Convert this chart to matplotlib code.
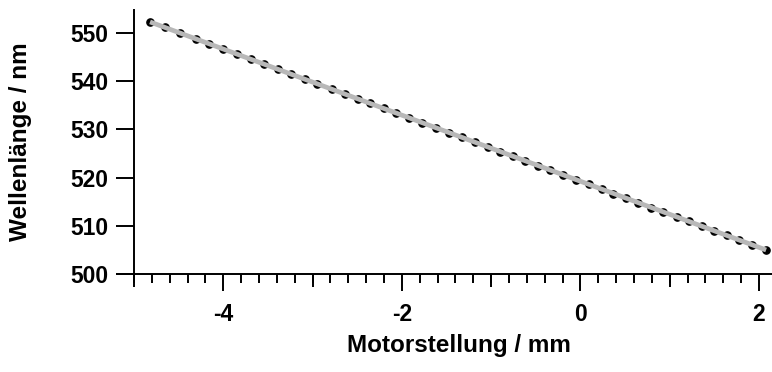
import numpy as np
import matplotlib
matplotlib.use('Agg')
from matplotlib import pyplot as plt
from matplotlib.ticker import MultipleLocator

plt.rcParams['font.family'] = ['Liberation Sans', 'DejaVu Sans']
plt.rcParams['font.weight'] = 'bold'

# Motorstellung (mm) und zugehoerige Wellenlaenge (nm)
motor_mm = [-4.82, -4.65, -4.48, -4.31, -4.16, -4.00, -3.85, -3.69, -3.54, -3.39,
            -3.24, -3.08, -2.95, -2.78, -2.64, -2.49, -2.36, -2.20, -2.06, -1.92,
            -1.77, -1.62, -1.47, -1.33, -1.18, -1.04, -0.90, -0.76, -0.62, -0.48,
            -0.34, -0.19, -0.05, 0.10, 0.24, 0.37, 0.51, 0.65, 0.79, 0.93,
            1.08, 1.22, 1.36, 1.50, 1.64, 1.78, 1.92, 2.08]
wellenlaenge_nm = [552.3, 551.2, 550.0, 548.8, 547.8, 546.7, 545.7, 544.6, 543.5, 542.5,
                   541.5, 540.4, 539.5, 538.3, 537.4, 536.3, 535.4, 534.4, 533.4, 532.4,
                   531.4, 530.4, 529.3, 528.4, 527.3, 526.4, 525.4, 524.5, 523.5, 522.5,
                   521.6, 520.6, 519.6, 518.6, 517.6, 516.7, 515.8, 514.8, 513.8, 512.9,
                   511.8, 510.9, 509.9, 509.0, 508.0, 507.0, 506.1, 505.0]

x_ticks = [-4, -2, 0, 2]
x_mid_ticks = [-5, -3, -1, 1]
y_ticks = [500, 510, 520, 530, 540, 550]

x = np.array(motor_mm)
y = np.array(wellenlaenge_nm)

# lineare Kalibrierung
slope, offset = np.polyfit(x, y, 1)
x_fit = np.array([x.min(), x.max()])

fig = plt.figure(figsize=(7.72, 3.72), dpi=100)
ax = fig.add_axes([117 / 772, 98 / 372, 655 / 772, 264 / 372])

ax.plot(x, y, 'o', color='black', markersize=5.2, zorder=2)
ax.plot(x_fit, slope * x_fit + offset, '-', color='#b8b8b8', linewidth=3.4,
        solid_capstyle='butt', zorder=3)

ax.set_xlim(-5.19, 2.146)
ax.set_ylim(500, 554.8)

for side in ['top', 'right']:
    ax.spines[side].set_visible(False)
ax.spines['left'].set_position(('data', -5))
ax.spines['left'].set_linewidth(1.4)
ax.spines['bottom'].set_linewidth(1.4)

ax.set_xticks(x_ticks)
ax.set_xticklabels([str(v) for v in x_ticks])
ax.xaxis.set_minor_locator(MultipleLocator(0.2))
ax.set_yticks(y_ticks)

ax.tick_params(axis='x', which='major', direction='out', length=12, width=1.4,
               labelsize=16.5, pad=9)
ax.tick_params(axis='x', which='minor', direction='out', length=6.5, width=1.4)
ax.tick_params(axis='y', which='major', direction='out', length=13, width=1.4,
               labelsize=16.5, pad=5.5)

# mittlere Striche bei ungeraden mm
sec = ax.secondary_xaxis('bottom')
sec.spines['bottom'].set_visible(False)
sec.set_xticks(x_mid_ticks)
sec.set_xticklabels([])
sec.tick_params(axis='x', which='major', direction='out', length=9.2, width=1.4)
sec.xaxis.set_minor_locator(MultipleLocator(10))
sec.tick_params(axis='x', which='minor', length=0)

for lab in ax.get_xticklabels() + ax.get_yticklabels():
    lab.set_fontweight('bold')

ax.set_xlabel('Motorstellung / mm', fontsize=17.5, fontweight='bold')
ax.set_ylabel('Wellenlänge / nm', fontsize=17.5, fontweight='bold')
ax.xaxis.set_label_coords((459 - 117) / 655, -0.228)
ax.yaxis.set_label_coords((32 - 117) / 655, 0.5)

fig.savefig('out.png', dpi=100)
